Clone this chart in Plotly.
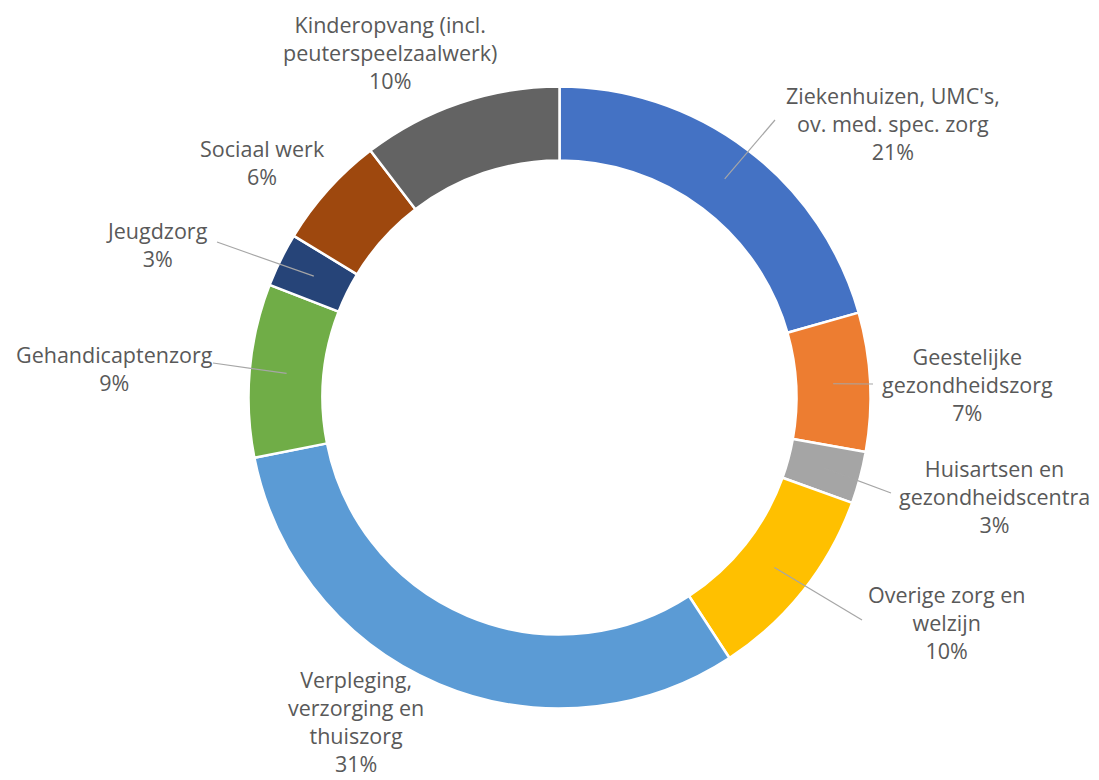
import math
import plotly.graph_objects as go

# ---- data ----
categories = [
    "Ziekenhuizen, UMC's,<br>ov. med. spec. zorg",
    "Geestelijke<br>gezondheidszorg",
    "Huisartsen en<br>gezondheidscentra",
    "Overige zorg en<br>welzijn",
    "Verpleging,<br>verzorging en<br>thuiszorg",
    "Gehandicaptenzorg",
    "Jeugdzorg",
    "Sociaal werk",
    "Kinderopvang (incl.<br>peuterspeelzaalwerk)",
]
shares = [20.6, 7.2, 2.7, 10.3, 31.1, 9.0, 2.8, 5.9, 10.4]
colors = ["#4472C4", "#ED7D31", "#A5A5A5", "#FFC000", "#5B9BD5",
          "#70AD47", "#264478", "#9E480E", "#636363"]

# ---- layout (page pixels, from top-left) ----
PAGE_W, PAGE_H = 1099, 780
OFF = 8  # default body margin of the html page
W, H = PAGE_W - OFF, PAGE_H - OFF
CX, CY, R = 559.5, 397.5, 311.0
HOLE = 0.762
label_pos = [(893, 124), (967, 385), (994, 496), (946, 622), (356, 721),
             (114, 368), (157, 245), (262, 162), (390, 53)]
leader_end = [(775, 120), (873, 384), (891, 493), (862, 620), None,
              (213, 363), (217, 242), None, None]

def to_paper(px, py):
    return (px - OFF) / W, 1 - (py - OFF) / H

dx0, dy1 = to_paper(CX - R, CY - R)
dx1, dy0 = to_paper(CX + R, CY + R)

fig = go.Figure(go.Pie(
    values=shares,
    labels=categories,
    marker=dict(colors=colors, line=dict(color="white", width=2.5)),
    hole=HOLE,
    sort=False,
    direction="clockwise",
    rotation=0,
    textinfo="none",
    hoverinfo="label+percent",
    showlegend=False,
    domain=dict(x=[dx0, dx1], y=[dy0, dy1]),
))

total = sum(shares)
cum = 0.0
r_mid = R * (1 + HOLE) / 2
annotations = []
shapes = []
for i, (cat, v) in enumerate(zip(categories, shares)):
    theta = 2 * math.pi * (cum + v / 2) / total
    cum += v
    pct = round(v / total * 100)
    lx, ly = label_pos[i]
    x, y = to_paper(lx, ly)
    annotations.append(dict(
        x=x, y=y, xref="paper", yref="paper", showarrow=False,
        text=f"{cat}<br>{pct}%", align="center",
        xanchor="center", yanchor="middle",
        font=dict(family="Open Sans", size=21.5, color="#595959"),
    ))
    if leader_end[i] is not None:
        sx = CX + r_mid * math.sin(theta)
        sy = CY - r_mid * math.cos(theta)
        ex, ey = leader_end[i]
        x0, y0 = to_paper(sx, sy)
        x1, y1 = to_paper(ex, ey)
        shapes.append(dict(type="line", xref="paper", yref="paper",
                           x0=x0, y0=y0, x1=x1, y1=y1,
                           line=dict(color="#A6A6A6", width=1.2)))

fig.update_layout(
    width=W, height=H,
    margin=dict(l=0, r=0, t=0, b=0),
    paper_bgcolor="white",
    plot_bgcolor="white",
    annotations=annotations,
    shapes=shapes,
)

fig.write_html("out.html")
